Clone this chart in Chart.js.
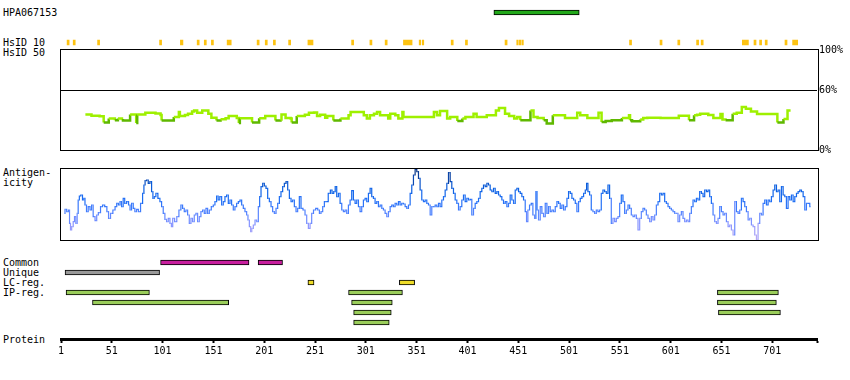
<!DOCTYPE html>
<html>
<head>
<meta charset="utf-8">
<title>HPA067153</title>
<script src="https://cdn.jsdelivr.net/npm/chart.js@4"></script>
<style>
  body { margin: 0; background: #fff; }
  #wrap {
    position: relative; width: 850px; height: 380px; overflow: hidden;
    font-family: "DejaVu Sans Mono", monospace; font-size: 10px; color: #000;
  }
  #wrap canvas { position: absolute; left: 0; }
  .lbl { position: absolute; left: 3px; line-height: 10px; white-space: pre; }
</style>
</head>
<body>
<div id="wrap">
  <div class="lbl" style="top:8px">HPA067153</div>
  <div class="lbl" style="top:37.5px">HsID 10</div>
  <div class="lbl" style="top:47.5px">HsID 50</div>
  <div class="lbl" style="top:168px">Antigen-</div>
  <div class="lbl" style="top:178px">icity</div>
  <div class="lbl" style="top:258px">Common</div>
  <div class="lbl" style="top:268px">Unique</div>
  <div class="lbl" style="top:278px">LC-reg.</div>
  <div class="lbl" style="top:288px">IP-reg.</div>
  <div class="lbl" style="top:334.5px">Protein</div>

  <canvas id="top" width="850" height="63" style="top:-3px"></canvas>
  <canvas id="hsid" width="850" height="120" style="top:40px"></canvas>
  <canvas id="anti" width="850" height="90" style="top:160px"></canvas>
  <canvas id="tracks" width="850" height="80" style="top:250px"></canvas>
  <canvas id="prot" width="850" height="40" style="top:330px"></canvas>
</div>

<script>
// ---- data ----
const proteinLength = 745;
const axisTicks = [1, 51, 101, 151, 201, 251, 301, 351, 401, 451, 501, 551, 601, 651, 701];
const percentTicks = [0, 60, 100];

const hpaRange = [427, 511];

// HsID 10 hits (residue ranges)
const hsid10Hits = [
  [7, 9], [13, 15], [37, 39], [98, 100], [118.5, 121], [135, 137], [142, 144], [149, 151],
  [164.5, 168.5], [194, 196], [202, 204], [210, 212], [225, 227], [244, 249], [287, 289],
  [305, 307], [320, 322], [338, 346.5], [353.5, 355], [356.5, 358], [385, 387], [399, 401],
  [438, 440], [449.5, 451], [452, 453.5], [454.5, 456], [560.5, 562.5], [590.5, 592.5],
  [608, 610], [626.5, 628.5], [631, 633], [671.5, 677.5], [683, 685], [688.5, 690.5],
  [694, 696], [713.5, 715.5], [721, 726]
];

// HsID 50 identity (%), step starts
const hsidPos = [25, 31, 39, 43, 48, 54, 57, 61, 62, 69, 75, 76, 84, 94, 99, 100, 112, 117, 118, 123,
  126, 130, 132, 135, 140, 146, 149, 154, 158, 163, 166, 174, 176, 177, 189, 196, 202, 212, 217, 218,
  222, 227, 228, 233, 241, 245, 250, 253, 256, 261, 263, 269, 276, 284, 286, 299, 302, 305, 309, 312,
  315, 323, 325, 330, 333, 337, 338, 368, 371, 374, 381, 384, 391, 396, 399, 407, 410, 420, 429, 432,
  438, 442, 447, 450, 453, 463, 466, 470, 476, 479, 485, 497, 509, 512, 519, 530, 533, 537, 543, 553,
  560, 561, 563, 571, 574, 578, 591, 609, 619, 624, 627, 630, 638, 643, 650, 652, 655, 662, 666, 671,
  675, 680, 686, 706, 712, 716, 719];
const hsidVal = [35.6, 34.3, 33.7, 27.4, 31.4, 29.7, 31.4, 29.7, 29.4, 35.6, 27.0, 35.6, 37.3, 36.6, 35.0, 29.4, 33.0, 38.0, 34.0, 35.0,
  36.3, 38.6, 39.6, 37.3, 39.6, 36.3, 32.3, 29.4, 30.7, 31.7, 34.0, 32.0, 27.0, 31.7, 27.4, 31.7, 34.0, 29.4, 30.4, 35.6,
  32.0, 31.4, 27.4, 34.0, 35.3, 37.3, 37.6, 34.0, 35.3, 32.3, 34.0, 29.4, 31.4, 34.7, 37.9, 34.7, 31.4, 34.7, 36.3, 37.9,
  34.7, 31.4, 36.3, 34.7, 31.4, 37.9, 33.0, 37.9, 34.7, 38.9, 31.4, 33.0, 29.0, 31.4, 33.0, 36.3, 33.0, 34.7, 39.6, 41.9,
  36.3, 34.0, 31.4, 33.0, 29.7, 39.6, 33.0, 32.0, 29.7, 26.4, 34.7, 32.0, 37.3, 34.7, 32.0, 37.3, 28.0, 29.0, 29.7, 32.0,
  34.7, 29.7, 28.7, 30.4, 32.0, 32.3, 32.0, 34.3, 29.7, 34.7, 35.3, 36.3, 35.0, 32.0, 36.0, 30.4, 29.7, 36.3, 37.3, 42.9,
  41.3, 38.6, 36.0, 27.4, 31.0, 39.6, 39.6];

// antigenicity profile (panel units 0-72)
const antPos = [4.3, 5.6, 7.6, 8.9, 9.9, 10.8, 12.2, 13.8, 14.8, 16.4, 17.4, 18.4, 19.7, 21.3, 23, 23.9, 25.3, 26.9, 28.6, 30.5,
  31.8, 33.5, 35.5, 36.8, 38.7, 41.1, 42.7, 45.3, 47, 48.6, 50.9, 53.2, 55.2, 56.5, 58.4, 59.8, 61.4, 63, 64.4, 66.7,
  68.3, 69.6, 71.3, 72.9, 74.5, 76.2, 78.1, 80.5, 82.1, 83.1, 84.4, 86, 87.7, 89.3, 91, 91.9, 93.6, 95.2, 97.5, 99.2,
  100.8, 102.4, 104.1, 105.7, 107.4, 109, 110.3, 111.6, 114, 115.9, 118.2, 119.8, 121.5, 123.1, 124.8, 126.4, 128.1, 129.7, 131.3, 133,
  134.6, 136.3, 137.9, 139.5, 141.2, 142.8, 144.5, 146.1, 147.8, 150, 151.7, 153.3, 155, 156.3, 158.3, 159.9, 161.5, 163.2, 164.8, 166.5,
  168.1, 169.7, 171.4, 173, 174.7, 176.3, 178, 179.6, 181.2, 182.9, 184.5, 185.5, 187.2, 188.1, 189.4, 191.1, 192.8, 194.4, 196, 197,
  198.7, 200.3, 201.9, 203.6, 205.2, 206.9, 208.5, 210.1, 211.8, 213.4, 215.1, 216.7, 218.3, 220, 221.6, 223.3, 224.9, 226.6, 228.2, 229.8,
  231.5, 233.1, 234.7, 236.4, 238, 240.3, 242, 243.6, 245.3, 246.9, 248.5, 250.5, 252.8, 254.5, 256.1, 257.7, 259.4, 261, 262.7, 265.3,
  266.9, 268.6, 270.2, 271.5, 273.2, 274.8, 276.5, 278.1, 279.7, 281.4, 283, 284.7, 286.3, 287.9, 289.6, 291.2, 292.9, 294.5, 296.1, 297.8,
  299.4, 301.1, 302.7, 304.4, 306, 307.6, 309.3, 310.9, 312.6, 314.2, 315.9, 317.5, 319.1, 320.8, 322.4, 324.1, 325.7, 327.3, 329, 330.6,
  332.3, 333.9, 335.5, 337.2, 338.8, 340.5, 342.1, 343.8, 345.4, 347, 348.7, 350.3, 352, 353.6, 355.2, 356.9, 358.5, 360.2, 361.8, 363.5,
  365.1, 366.7, 368.4, 370, 371.7, 373.3, 374.9, 376.6, 378.2, 379.9, 381.5, 383.2, 384.8, 386.4, 388.1, 389.7, 391.4, 393, 394.6, 396.3,
  397.9, 399.6, 401.2, 402.9, 404.5, 406.1, 407.8, 409.4, 411.1, 412.7, 414.3, 416, 417.6, 419.3, 420.9, 422.5, 424.2, 425.8, 427.5, 429.1,
  430.8, 432.4, 434, 435.7, 437.3, 439, 440.6, 442.2, 443.9, 445.5, 447.2, 448.8, 450.5, 452.1, 453.7, 455.4, 457, 458.7, 459.6, 461.3,
  462.9, 464.6, 466.2, 467.9, 468.8, 470.1, 471.8, 473.4, 475.1, 476.7, 478.4, 480, 481.6, 483.3, 484.9, 486.6, 488.2, 489.9, 491.5, 493.1,
  494.8, 496.4, 498.1, 499.7, 501.3, 503, 504.6, 506.3, 507.9, 509.5, 511.2, 512.8, 514.5, 516.1, 517.8, 518.7, 520.4, 522, 523.7, 525.3,
  527, 528.6, 530.2, 531.9, 533.5, 535.2, 536.8, 538.5, 540.1, 541.7, 543.4, 545, 546.7, 548.3, 550, 551.6, 553.2, 554.9, 556.5, 558.2,
  559.8, 561.4, 563.1, 564.7, 566.4, 568, 569.7, 571.3, 572.9, 574.6, 576.2, 577.9, 579.5, 581.1, 582.8, 584.4, 586.1, 587.7, 589.4, 591,
  592.6, 594.3, 595.9, 597.6, 599.2, 600.8, 602.5, 604.1, 605.8, 607.4, 609, 610.7, 612.3, 614, 615.6, 617.3, 618.9, 620.5, 622.2, 623.8,
  625.5, 627.1, 628.7, 630.4, 632, 633.7, 635.3, 637, 638.6, 640.2, 641.9, 643.5, 645.2, 646.8, 648.4, 650.1, 651.7, 653.4, 655, 656.7,
  658.3, 659.9, 661.6, 663.2, 664.9, 666.5, 668.1, 669.8, 671.4, 673.1, 674.7, 676.4, 678, 679.6, 681.3, 682.9, 684.6, 686.2, 687.8, 689.5,
  691.1, 692.8, 694.4, 696.1, 697.7, 699.3, 701, 702.6, 704.3, 705.9, 707.5, 709.2, 710.8, 712.5, 714.1, 715.7, 717.4, 719, 720.7, 722.3,
  724, 725.6, 727.2, 728.9, 730.5, 732.2, 733.8, 735.4, 737.1, 738.7];
const antVal = [26.7, 30.7, 28.3, 30, 16.7, 10, 13.3, 18.3, 23.3, 16.7, 26.7, 40, 44, 45, 40, 41.7, 35, 28.3, 33.3, 30,
  35, 23.3, 19.3, 25, 27.3, 33.3, 35, 33.3, 28.3, 21.7, 26.7, 30, 33.3, 36.7, 35, 38.3, 33.3, 41.7, 36.7, 38.3,
  35, 30, 36.7, 31.7, 28.3, 30.7, 28.3, 36.7, 46.7, 55, 59.3, 60, 56.7, 58.3, 48.3, 41.7, 43.3, 46.7, 41.7, 38.3,
  33.3, 26.7, 20.7, 18.3, 21.7, 16.7, 13.3, 21.7, 18.3, 23.3, 30, 35, 31.7, 28.3, 30, 25, 16.7, 21.7, 18.3, 25,
  26.7, 18.3, 23.3, 28.3, 30, 26.7, 31.7, 26.7, 30, 33.3, 35, 38.3, 44, 40, 43.3, 35, 38.3, 43.3, 45, 36.7,
  40, 35, 30, 33.3, 36.7, 38.3, 40, 35, 31.7, 28.3, 25, 20, 13.3, 8.3, 11.7, 15, 20, 18.3, 33.3, 43.3,
  53.3, 56.7, 54, 51.7, 41.7, 38.3, 33.3, 28.3, 26.7, 31.7, 36.7, 43.3, 48.3, 53.3, 56.7, 58.3, 50, 41.7, 38.3, 40,
  33.3, 28.3, 31.7, 43.3, 31.7, 30, 25, 16.7, 11.7, 16.7, 26.7, 30, 31.7, 30, 26.7, 28.3, 33.3, 38.3, 38.3, 46.7,
  50, 46.7, 48.3, 53.3, 43.3, 46.7, 36.7, 30, 28.3, 30, 26.7, 35, 40, 49.3, 40, 36.7, 40, 33.3, 28.3, 33.3,
  40, 41.7, 38.3, 46.7, 51.7, 43.3, 41.7, 36.7, 38.3, 33.3, 35, 31.7, 30, 26.7, 23.3, 28.3, 33.3, 35, 33.3, 36.7,
  35, 38.3, 35, 36.7, 36, 33.3, 31.7, 35, 46.7, 55, 65, 70.7, 68.3, 61.7, 50, 40, 38.3, 40, 36.7, 35,
  25, 33.3, 33.3, 35, 33.3, 36.7, 33.3, 40, 43.3, 50, 56.7, 67.3, 58.3, 51.7, 46.7, 40, 36.7, 30, 33.3, 40,
  45, 38.3, 41.7, 40, 40.7, 25, 31.7, 36.7, 38.3, 41.7, 48.3, 51.7, 55, 53.3, 56.7, 55, 50, 48.3, 51.7, 46.7,
  48.3, 45, 43.3, 40, 36.7, 38.3, 33.3, 36.7, 45, 40, 36.7, 50, 51.7, 48.3, 46.7, 43.3, 40, 28.3, 18.3, 30,
  35, 36.7, 25, 21.7, 48.3, 30, 20, 33.3, 26.7, 23.3, 36.7, 26.7, 33.3, 28.3, 30, 28.3, 33.3, 38.3, 36.7, 31.7,
  35, 30, 33.3, 41.7, 48.3, 46.7, 41.7, 40, 36.7, 28.3, 38.3, 41.7, 43.3, 46.7, 50, 56.7, 48.3, 45, 30, 28.3,
  26.7, 30, 28.3, 30, 46.7, 50, 48.3, 46.7, 55, 41.7, 16.7, 21.7, 18.3, 21.7, 23.3, 36.7, 45, 38.3, 26.7, 30,
  35, 31.7, 25, 23.3, 25, 21.7, 10, 21.7, 28.3, 31.7, 30, 25, 21.7, 18.3, 23.3, 20, 25, 35, 38.3, 46.7,
  45, 46.7, 38.3, 36.7, 33.3, 31.7, 30, 28.3, 26.7, 26.7, 18.3, 25, 28.3, 21.7, 18.3, 20, 18.3, 26.7, 33.3, 40,
  38.3, 41.7, 40, 48.3, 46.7, 43.3, 50, 48.3, 50, 43.3, 36.7, 25, 18.3, 16.7, 21.7, 33.3, 28.3, 25, 26.7, 18.3,
  13.3, 15, 10, 5, 38.3, 28.3, 26.7, 30, 41.7, 38.3, 33.3, 28.3, 20, 21.7, 15, 13.3, 5, 0, 16.7, 26.7,
  25, 36.7, 40, 35, 40, 38.3, 43.3, 50, 55, 48.3, 50, 38.3, 53.3, 45, 43.3, 31.7, 43.3, 40, 45, 38.3,
  43.3, 46.7, 48.3, 50, 48.3, 43.3, 30, 36.7, 36.7, 33.3];

// feature tracks
const trackRows = ['Common', 'Unique', 'LC-reg.', 'IP-reg.', 'IP-reg. 2', 'IP-reg. 3', 'IP-reg. 4'];
const commonRanges = [[99, 186], [195, 219]];
const uniqueRanges = [[5, 98]];
const lcRanges = [[244, 250], [334, 349]];
const ipRanges = [[6, 88], [284, 337], [647, 707], [32, 166], [287, 327], [647, 705], [289, 326], [648, 709], [289, 324]];
const ipRowIndex = [3, 3, 3, 4, 4, 4, 5, 5, 6];

// ---- helpers ----
Chart.defaults.font.family = '"DejaVu Sans Mono", monospace';
Chart.defaults.font.size = 10;
Chart.defaults.color = '#000';

const base = {
  responsive: false,
  animation: false,
  events: [],
  plugins: { legend: { display: false }, tooltip: { enabled: false } }
};

const xHidden = { type: 'linear', min: 1, max: proteinLength, display: false };

// frame round a panel; topShift lets the frame sit above the plot top
function panelBox(topShift) {
  return {
    id: 'panelBox',
    afterDraw(chart) {
      const a = chart.chartArea, ctx = chart.ctx;
      const y0 = a.top + 0.5 - topShift;
      ctx.save();
      ctx.strokeStyle = '#000';
      ctx.lineWidth = 1;
      ctx.strokeRect(a.left - 0.5, y0, a.right - a.left + 2, a.bottom + 0.5 - y0);
      ctx.restore();
    }
  };
}

function mix(stops, v) {
  if (v <= stops[0][0]) return 'rgb(' + stops[0][1].join(',') + ')';
  for (let i = 1; i < stops.length; i++) {
    if (v <= stops[i][0]) {
      const [v0, c0] = stops[i - 1], [v1, c1] = stops[i];
      const t = (v - v0) / (v1 - v0);
      const c = c0.map((k, j) => Math.round(k + (c1[j] - k) * t));
      return 'rgb(' + c.join(',') + ')';
    }
  }
  return 'rgb(' + stops[stops.length - 1][1].join(',') + ')';
}
const antStops = [
  [0, [190, 170, 240]], [15, [140, 150, 255]], [28, [80, 130, 255]],
  [40, [30, 110, 245]], [52, [10, 95, 225]], [65, [10, 60, 150]], [72, [5, 45, 120]]
];

function floating(ranges, rowOf, color, border) {
  return {
    data: ranges.map((r, i) => ({ x: r, y: rowOf(i) })),
    backgroundColor: color,
    borderColor: '#000',
    borderWidth: border ? 1 : 0,
    borderSkipped: false,
    barThickness: 5,
    grouped: false
  };
}

// ---- top strip: antibody + HsID 10 ----
new Chart(document.getElementById('top'), {
  type: 'bar',
  data: {
    labels: ['HPA067153', 'HsID 10'],
    datasets: [
      floating([hpaRange], () => 'HPA067153', '#22a81a', true),
      floating(hsid10Hits, () => 'HsID 10', '#fdc312', false)
    ]
  },
  options: Object.assign({}, base, {
    indexAxis: 'y',
    layout: { padding: { left: 61, right: 33, top: 0.5, bottom: 2.5 } },
    scales: { x: xHidden, y: { type: 'category', offset: true, display: false } }
  })
});

// ---- HsID 50 panel ----
new Chart(document.getElementById('hsid'), {
  type: 'line',
  data: {
    datasets: [{
      data: hsidPos.map((p, i) => ({ x: p, y: hsidVal[i] })),
      stepped: true,
      borderWidth: 2.5,
      pointRadius: 0,
      borderColor: '#9ef000',
      segment: { borderColor: c => c.p0.parsed.y < 30.2 ? '#5fb800' : '#9ef000' }
    }]
  },
  options: Object.assign({}, base, {
    layout: { padding: { left: 61, right: 0, top: 10, bottom: 10 } },
    scales: {
      x: xHidden,
      y: {
        type: 'linear', min: 0, max: 100, position: 'right',
        afterBuildTicks: s => { s.ticks = percentTicks.map(v => ({ value: v })); },
        afterFit: s => { s.width = 33; },
        border: { display: false },
        grid: {
          drawTicks: false,
          color: c => (c.tick && c.tick.value === 60) ? '#000' : 'rgba(0,0,0,0)'
        },
        ticks: { padding: 2, color: '#000', callback: v => v + '%' }
      }
    }
  }),
  plugins: [panelBox(1)]
});

// ---- antigenicity panel ----
new Chart(document.getElementById('anti'), {
  type: 'line',
  data: {
    datasets: [{
      data: antPos.map((p, i) => ({ x: p, y: antVal[i] })),
      stepped: 'middle',
      borderWidth: 1.2,
      pointRadius: 0,
      borderColor: '#1e73f5',
      segment: { borderColor: c => mix(antStops, (c.p0.parsed.y + c.p1.parsed.y) / 2) }
    }]
  },
  options: Object.assign({}, base, {
    layout: { padding: { left: 61, right: 33, top: 8, bottom: 10 } },
    scales: { x: xHidden, y: { type: 'linear', min: 0, max: 72, display: false } }
  }),
  plugins: [panelBox(0)]
});

// ---- feature tracks ----
new Chart(document.getElementById('tracks'), {
  type: 'bar',
  data: {
    labels: trackRows,
    datasets: [
      floating(commonRanges, () => trackRows[0], '#c81e9e', true),
      floating(uniqueRanges, () => trackRows[1], '#999999', true),
      floating(lcRanges, () => trackRows[2], '#eedc28', true),
      floating(ipRanges, i => trackRows[ipRowIndex[i]], '#9acd5a', true)
    ]
  },
  options: Object.assign({}, base, {
    indexAxis: 'y',
    layout: { padding: { left: 61, right: 33, top: 7.5, bottom: 2.5 } },
    scales: { x: xHidden, y: { type: 'category', offset: true, display: false } }
  })
});

// ---- protein axis ----
new Chart(document.getElementById('prot'), {
  type: 'line',
  data: { datasets: [] },
  options: Object.assign({}, base, {
    layout: { padding: { left: 61, right: 33, top: 0, bottom: 0 } },
    scales: {
      x: {
        type: 'linear', min: 1, max: proteinLength, position: 'bottom',
        afterBuildTicks: s => { s.ticks = axisTicks.concat([proteinLength]).map(v => ({ value: v })); },
        afterFit: s => { s.height = 31; },
        border: { display: true, color: '#000', width: 3 },
        grid: { drawOnChartArea: false, drawTicks: true, tickLength: 4, tickWidth: 2, tickColor: '#000' },
        ticks: {
          autoSkip: false, maxRotation: 0, padding: 2, color: '#000',
          callback: v => axisTicks.includes(v) ? String(v) : ''
        }
      },
      y: { display: false, min: 0, max: 1 }
    }
  })
});
</script>
</body>
</html>
